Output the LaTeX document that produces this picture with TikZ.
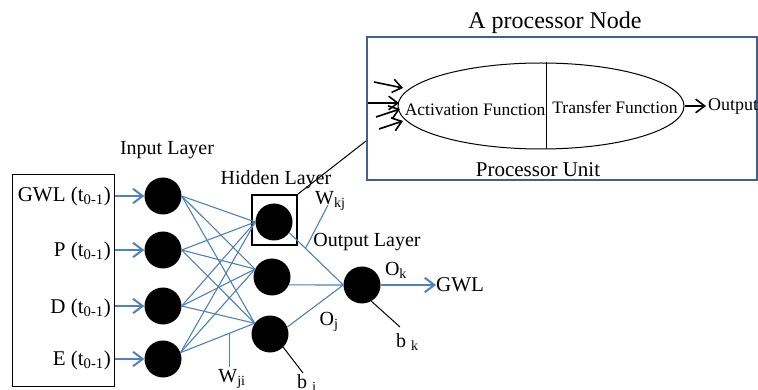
\documentclass[tikz,border=0pt]{standalone}
\usepackage{fontspec}
\setmainfont{Liberation Serif}
\usetikzlibrary{arrows.meta,shapes.geometric,calc}
\definecolor{linkblue}{RGB}{79,129,189}
\definecolor{boxblue}{RGB}{65,96,145}
\newcommand\setfs[1]{\fontsize{#1}{#1}\selectfont}

\begin{document}
\begin{tikzpicture}[x=1pt,y=-1pt,
  neuron/.style={circle,fill=black,minimum size=37pt,inner sep=0pt},
  link/.style={linkblue,line width=1.1pt},
  feed/.style={linkblue,line width=2pt,-{Straight Barb[length=6pt,width=9pt,scale=1.6]}},
  inarrow/.style={black,line width=1.6pt,-{Straight Barb[length=6pt,width=9pt,scale=1.5]}},
  tick/.style={black,line width=1pt},
  lbl/.style={font=\setfs{20},inner sep=0pt},
  small/.style={font=\setfs{17.5},inner sep=0pt}]
\useasboundingbox (0,0) rectangle (758,390);

% ---------- input side ----------
\node[draw,line width=1pt,minimum width=102pt,minimum height=211pt,inner sep=0pt] (inbox) at (63,280.5) {};
\node[lbl,font=\setfs{21},anchor=east] (l1) at (111,196) {GWL (t\textsubscript{0-1})};
\node[lbl,font=\setfs{21},anchor=east] (l2) at (111,251) {P (t\textsubscript{0-1})};
\node[lbl,font=\setfs{21},anchor=east] (l3) at (111,308) {D (t\textsubscript{0-1})};
\node[lbl,font=\setfs{21},anchor=east] (l4) at (111,360) {E (t\textsubscript{0-1})};

\node[neuron] (i1) at (163,196) {};
\node[neuron] (i2) at (163,250) {};
\node[neuron] (i3) at (163,306) {};
\node[neuron] (i4) at (163,359) {};

\foreach \k in {1,2,3,4}
  \draw[feed] (inbox.east |- i\k) -- (i\k.west);

\node[lbl] (inlayer) at (167,150) {Input Layer};

% ---------- hidden layer ----------
\node[neuron] (h1) at (274,222) {};
\node[neuron] (h2) at (272,277) {};
\node[neuron] (h3) at (270,334) {};
\node[draw,line width=1.8pt,minimum width=45pt,minimum height=50pt,inner sep=0pt] (hbox) at (274.5,220) {};
\node[lbl] (hidlayer) at (276,180) {Hidden Layer};

\coordinate (o1) at (i1.east);
\coordinate (o2) at (i2.east);
\coordinate (o3) at (i3.east);
\coordinate (o4) at (i4.20);
\coordinate (t1) at (h1.180);
\coordinate (t2) at (h2.155);
\coordinate (t3) at (h3.145);
\foreach \a in {1,2,3,4}
  \foreach \b in {1,2,3}
    \draw[link] (o\a) -- (t\b);

% weight marker W_ji
\coordinate (wji) at ($(o4)!0.66!(t3)$);
\coordinate (wjiend) at ([yshift=-34pt]wji);
\draw[link] (wji) -- (wjiend);
\node[lbl,anchor=north] (wjilbl) at (232,369) {W\textsubscript{ji}};

% ---------- output layer ----------
\node[neuron] (out) at (362,285) {};
\node[lbl] (outlayer) at (367,242) {Output Layer};

\draw[link] (h1.-35) -- (out.west);
\draw[link] (h2.-25) -- (out.west);
\draw[link] (h3.22) -- (out.west);

% weight marker W_kj
\coordinate (wkj) at ($(h1.-35)!0.3!(out.west)$);
\coordinate (wkjend) at (328,205);
\draw[link] (wkj) -- (wkjend);
\node[lbl,anchor=west] (wkjlbl) at (315,201) {W\textsubscript{kj}};

\node[lbl] (ojlbl) at (329,322) {O\textsubscript{j}};
\node[lbl] (oklbl) at (396,270) {O\textsubscript{k}};

\node[lbl,font=\setfs{21},anchor=west] (gwl) at (436,285) {GWL};
\draw[feed] (out.east) -- (gwl.west);

% biases
\coordinate (bk) at (400,327);
\draw[tick] (out.-60) -- (bk);
\node[lbl,anchor=north west] (bklbl) at (396,333) {b \textsubscript{k}};
\coordinate (bj) at (303,373);
\draw[tick] (h3.-45) -- (bj);
\node[lbl,anchor=north west] (bjlbl) at (297,374) {b \textsubscript{j}};

% ---------- processor node detail ----------
\node[draw=boxblue,line width=2pt,minimum width=390pt,minimum height=143pt,inner sep=0pt] (pbox) at (562,108.5) {};
\node[font=\setfs{24},inner sep=0pt] (ptitle) at (555,23) {A processor Node};
\node[font=\setfs{21},inner sep=0pt] (punit) at (538,170) {Processor Unit};
\coordinate (pin) at ([yshift=-32.5pt]pbox.west);
\draw[tick] (hbox.north east) -- (pin);

\node[draw,ellipse,line width=1pt,minimum width=286pt,minimum height=86pt,inner sep=0pt] (ell) at (541,106) {};
\draw[tick] ([xshift=5pt]ell.north) -- ([xshift=5pt]ell.south);
\node[small] (act) at (475,110) {Activation Function};
\node[small] (trans) at (615,107) {Transfer Function};
\node[font=\setfs{18},anchor=west,inner sep=2pt] (outtxt) at (706,106) {Output};
\draw[inarrow] (ell.east) -- (outtxt.west);

\coordinate (s1) at (374,82);  \coordinate (e1) at (403,88);
\coordinate (s2) at (368,103); \coordinate (e2) at (399,103);
\coordinate (s3) at (376,117); \coordinate (e3) at (400,109);
\coordinate (s4) at (379,129); \coordinate (e4) at (403,121);
\foreach \k in {1,2,3,4}
  \draw[inarrow] (s\k) -- (e\k);
\end{tikzpicture}
\end{document}
